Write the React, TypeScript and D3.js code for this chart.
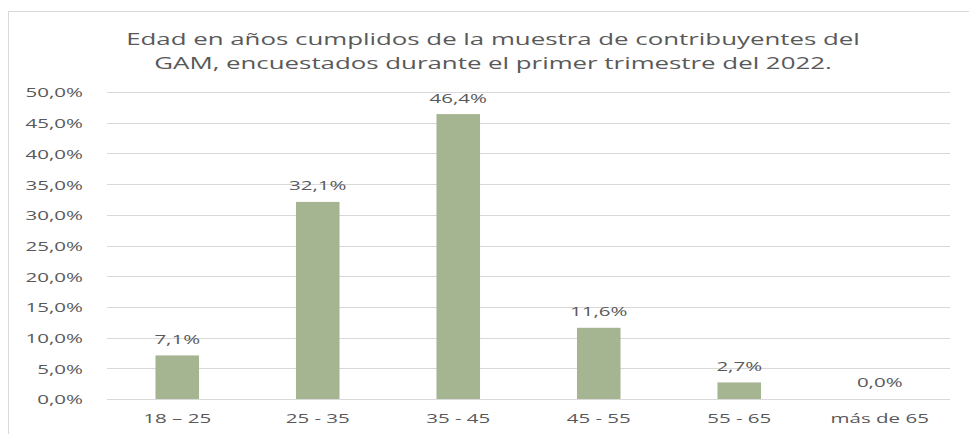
import React from 'react';
import * as d3 from 'd3';

const categories = ['18 – 25', '25 - 35', '35 - 45', '45 - 55', '55 - 65', 'más de 65'];
const values = [7.1, 32.1, 46.4, 11.6, 2.7, 0.0];
const yTicks = [0, 5, 10, 15, 20, 25, 30, 35, 40, 45, 50];
const titleLines = [
  'Edad en años cumplidos de la muestra de contribuyentes del',
  'GAM, encuestados durante el primer trimestre del 2022.',
];

const width = 969;
const height = 434;
const left = 107;
const right = 950;
const top = 92;
const bottom = 399;
const sx = 1.52; // horizontal stretch of the text in the picture
const textColor = '#595959';
const fmt = (v: number) => v.toFixed(1).replace('.', ',') + '%';

function Label({ x, y, anchor = 'middle', size = 13.5, children }: any) {
  return (
    <text
      transform={`translate(${x},${y}) scale(${sx},1)`}
      textAnchor={anchor}
      dominantBaseline="central"
      fontSize={size}
      fill={textColor}
    >
      {children}
    </text>
  );
}

export default function App() {
  const x = d3.scaleBand().domain(categories).range([left, right]).paddingInner(0.69).paddingOuter(0.345);
  const y = d3.scaleLinear().domain([0, 50]).range([bottom, top]);

  return (
    <svg width={width} height={height} style={{ position: 'absolute', left: 0, top: 0 }}
      fontFamily="'Open Sans', sans-serif">
      <rect x={0} y={0} width={width} height={height} fill="#fff" />
      <rect x={8.5} y={11.5} width={1000} height={500} fill="#fff" stroke="#d9d9d9" />

      {titleLines.map((t, i) => (
        <Label key={t} x={493} y={38 + i * 24} size={17}>{t}</Label>
      ))}

      {yTicks.map(t => (
        <g key={t}>
          <line x1={left} x2={right} y1={Math.round(y(t)) + 0.5} y2={Math.round(y(t)) + 0.5} stroke="#d9d9d9" />
          <Label x={83} y={y(t)} anchor="end">{fmt(t)}</Label>
        </g>
      ))}

      {categories.map((c, i) => (
        <g key={c}>
          {values[i] > 0 && (
            <rect x={x(c)} y={y(values[i])} width={x.bandwidth()} height={y(0) - y(values[i])} fill="#a5b592" />
          )}
          <Label x={(x(c) as number) + x.bandwidth() / 2} y={y(values[i]) - 17}>{fmt(values[i])}</Label>
          <Label x={(x(c) as number) + x.bandwidth() / 2} y={418}>{c}</Label>
        </g>
      ))}
    </svg>
  );
}
